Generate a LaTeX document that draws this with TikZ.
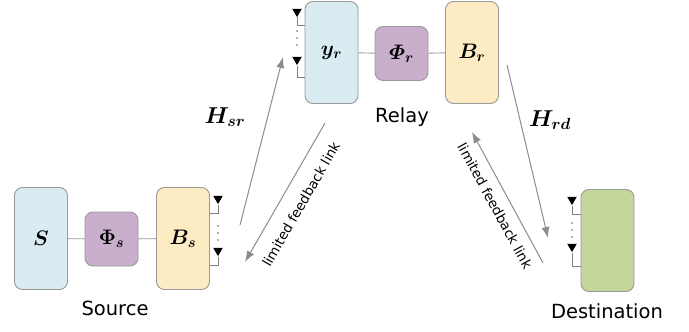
\RequirePackage{fix-cm}
\documentclass[tikz,border=0pt]{standalone}
\usepackage{amsmath,bm}
\usepackage{fontspec}
\newfontfamily\lblfont{DejaVu Sans}
\usetikzlibrary{arrows.meta,shapes.geometric}

\definecolor{blueFill}{HTML}{DAEBF2}
\definecolor{purpleFill}{HTML}{C9AFCB}
\definecolor{yellowFill}{HTML}{FCEBC3}
\definecolor{greenFill}{HTML}{C3D69B}
\definecolor{edge}{HTML}{9A9A9A}
\definecolor{linkgray}{HTML}{8C8C8C}

\tikzset{
  block/.style={draw=edge, line width=0.9pt, rounded corners=8pt, inner sep=0pt,
                font=\fontsize{21}{24}\selectfont},
  tallbox/.style={block, minimum width=53pt, minimum height=102pt},
  squarebox/.style={block, minimum width=53pt, minimum height=54pt},
  wire/.style={draw=edge, line width=0.9pt},
  antenna/.style={regular polygon, regular polygon sides=3, shape border rotate=180,
                  fill=black, inner sep=0pt, minimum size=11pt},
  antline/.style={draw=gray, line width=0.7pt},
  antdot/.style={fill=black!60},
  linkarrow/.style={draw=linkgray, line width=1pt, -{Latex[length=11pt,width=8pt]}},
  namelabel/.style={font=\lblfont\fontsize{19.5}{22}\selectfont},
  linklabel/.style={font=\lblfont\fontsize{13.5}{15}\selectfont, inner sep=0pt},
  chanlabel/.style={font=\fontsize{23}{26}\selectfont, inner sep=0pt},
}

\begin{document}
\begin{tikzpicture}[x=1pt, y=-1pt]
\useasboundingbox (0,0) rectangle (689,332);

% ---- source ----
\node[tallbox, fill=blueFill] (S) at (41,238.5) {$\bm{S}$};
\node[squarebox, fill=purpleFill] (Phis) at (111.5,239) {$\bm{\Phi}_{\bm{s}}$};
\node[tallbox, fill=yellowFill] (Bs) at (183,238.5) {$\bm{B}_{\bm{s}}$};
\draw[wire] (S) -- (Phis);
\draw[wire] (Phis) -- (Bs);
\node[namelabel] (src) at (115,308) {Source};

\node[antenna] (bsA) at (218,198.6) {};
\node[antenna] (bsB) at (218,250.6) {};
\draw[antline] (bsA.south) |- (Bs.east |- 0,213);
\draw[antline] (bsB.south) |- (Bs.east |- 0,265);
\foreach \yy in {226,233,240} \fill[antdot] (218,\yy) circle (0.9);

% ---- relay ----
\node[tallbox, fill=blueFill] (yr) at (331.5,52.5) {$\bm{y}_{\bm{r}}$};
\node[squarebox, fill=purpleFill] (Phir) at (401.5,53.5) {$\bm{\varPhi}_{\bm{r}}$};
\node[tallbox, fill=yellowFill] (Br) at (472,52.5) {$\bm{B}_{\bm{r}}$};
\draw[wire] (yr) -- (Phir);
\draw[wire] (Phir) -- (Br);
\node[namelabel] (rly) at (402,117) {Relay};

\node[antenna] (yrA) at (297,11.6) {};
\node[antenna] (yrB) at (297,59.6) {};
\draw[antline] (yrA.south) |- (yr.west |- 0,25);
\draw[antline] (yrB.south) |- (yr.west |- 0,77);
\foreach \yy in {31,38,45} \fill[antdot] (297,\yy) circle (0.9);

% ---- destination ----
\node[tallbox, fill=greenFill] (D) at (607.5,240.5) {};
\node[namelabel] (dst) at (607,311) {Destination};

\node[antenna] (dA) at (572,199.6) {};
\node[antenna] (dB) at (572,246.6) {};
\draw[antline] (dA.south) |- (D.west |- 0,214);
\draw[antline] (dB.south) |- (D.west |- 0,266);
\foreach \yy in {223,230,237} \fill[antdot] (572,\yy) circle (0.9);

% ---- channels and feedback links ----
\coordinate (hsrTail) at (240,225);
\coordinate (hsrHead) at (283,57);
\coordinate (fbsTail) at (325,123);
\coordinate (fbsHead) at (245,262);
\coordinate (hrdTail) at (507,65);
\coordinate (hrdHead) at (548,238);
\coordinate (fbdTail) at (543,263);
\coordinate (fbdHead) at (472,132);

\draw[linkarrow] (hsrTail) -- (hsrHead);
\draw[linkarrow] (fbsTail) -- (fbsHead);
\draw[linkarrow] (hrdTail) -- (hrdHead);
\draw[linkarrow] (fbdTail) -- (fbdHead);

\node[chanlabel] (Hsr) at (225,117) {$\bm{H}_{\bm{sr}}$};
\node[chanlabel] (Hrd) at (550,120) {$\bm{H}_{\bm{rd}}$};
\node[linklabel, rotate=60] (fbs) at (301,204) {limited feedback link};
\node[linklabel, rotate=-61.5] (fbd) at (495,206) {limited feedback link};
\end{tikzpicture}
\end{document}
